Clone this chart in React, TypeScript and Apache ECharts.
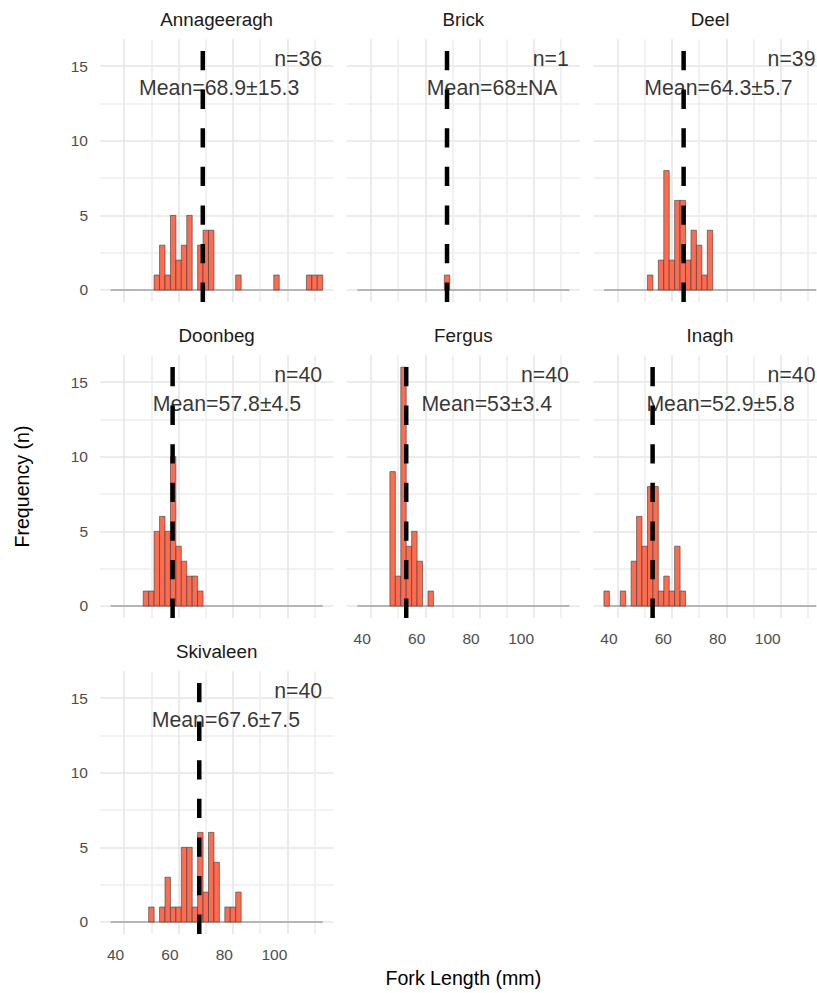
import React, { useEffect, useRef } from "react";
import * as echarts from "echarts";

// ---------------- data ----------------
const facetNames = ["Annageeragh", "Brick", "Deel", "Doonbeg", "Fergus", "Inagh", "Skivaleen"];
const sampleSizes = [36, 1, 39, 40, 40, 40, 40];
const meanValues = [68.9, 68, 64.3, 57.8, 53, 52.9, 67.6];
const meanLabels = ["68.9±15.3", "68±NA", "64.3±5.7", "57.8±4.5", "53±3.4", "52.9±5.8", "67.6±7.5"];

const BIN_WIDTH = 2;
const binStarts = [35, 37, 39, 41, 43, 45, 47, 49, 51, 53, 55, 57, 59, 61, 63, 65, 67, 69, 71, 73, 75, 77, 79, 81, 83, 85, 87, 89, 91, 93, 95, 97, 99, 101, 103, 105, 107, 109, 111];

const countsAnnageeragh = [0, 0, 0, 0, 0, 0, 0, 0, 1, 3, 1, 5, 2, 3, 5, 0, 3, 4, 4, 0, 0, 0, 0, 1, 0, 0, 0, 0, 0, 0, 1, 0, 0, 0, 0, 0, 1, 1, 1];
const countsBrick = [0, 0, 0, 0, 0, 0, 0, 0, 0, 0, 0, 0, 0, 0, 0, 0, 1, 0, 0, 0, 0, 0, 0, 0, 0, 0, 0, 0, 0, 0, 0, 0, 0, 0, 0, 0, 0, 0, 0];
const countsDeel = [0, 0, 0, 0, 0, 0, 0, 0, 1, 0, 2, 8, 2, 6, 6, 2, 4, 3, 1, 4, 0, 0, 0, 0, 0, 0, 0, 0, 0, 0, 0, 0, 0, 0, 0, 0, 0, 0, 0];
const countsDoonbeg = [0, 0, 0, 0, 0, 0, 1, 1, 5, 6, 5, 10, 4, 3, 2, 2, 1, 0, 0, 0, 0, 0, 0, 0, 0, 0, 0, 0, 0, 0, 0, 0, 0, 0, 0, 0, 0, 0, 0];
const countsFergus = [0, 0, 0, 0, 0, 0, 9, 2, 16, 4, 5, 3, 0, 1, 0, 0, 0, 0, 0, 0, 0, 0, 0, 0, 0, 0, 0, 0, 0, 0, 0, 0, 0, 0, 0, 0, 0, 0, 0];
const countsInagh = [1, 0, 0, 1, 0, 3, 6, 4, 8, 8, 1, 2, 1, 4, 1, 0, 0, 0, 0, 0, 0, 0, 0, 0, 0, 0, 0, 0, 0, 0, 0, 0, 0, 0, 0, 0, 0, 0, 0];
const countsSkivaleen = [0, 0, 0, 0, 0, 0, 0, 1, 0, 1, 3, 1, 1, 5, 5, 1, 6, 2, 6, 4, 0, 1, 1, 2, 0, 0, 0, 0, 0, 0, 0, 0, 0, 0, 0, 0, 0, 0, 0];
const facetCounts = [countsAnnageeragh, countsBrick, countsDeel, countsDoonbeg, countsFergus, countsInagh, countsSkivaleen];

const xGridValues = [40, 50, 60, 70, 80, 90, 100, 110];
const xTickLabels = [40, 60, 80, 100];
const yGridValues = [0, 2.5, 5, 7.5, 10, 12.5, 15];
const yTickLabels = [0, 5, 10, 15];

const xAxisTitle = "Fork Length (mm)";
const yAxisTitle = "Frequency (n)";

// ---------------- layout / style ----------------
const X_MIN = 31.1;
const X_MAX = 116.9;
const Y_MIN = -0.8;
const Y_MAX = 16.8;
const N_LABEL_POS = [113, 15.5];
const MEAN_LABEL_Y = 13.5;
const MEAN_LABEL_CENTER_X = [74.9, 84.6, 77.1, 77.8, 82.6, 77.9, 77.4];

const PANEL_LEFT = 100;
const PANEL_W = 233.33;
const COL_STEP = 246.67;
const PANEL_TOP = 39.2;
const PANEL_H = 262.7;
const ROW_STEP = 316;
const STRIP_Y = 19.5;

const FONT = "'Liberation Sans', Arial, sans-serif";
const BAR_FILL = "#FF6B4F";
const BAR_STROKE = "#3a3a3a";
const GRID_MAJOR = "#E6E6E6";
const GRID_MINOR = "#EEEEEE";

export default function App() {
  const ref = useRef<HTMLDivElement>(null);

  useEffect(() => {
    document.body.style.margin = "0";
    if (!ref.current) return;
    const chart = echarts.init(ref.current, undefined, { renderer: "svg" });

    const grids: any[] = [];
    const xAxes: any[] = [];
    const yAxes: any[] = [];
    const series: any[] = [];
    const graphics: any[] = [];

    const bottomPanels = [4, 5, 6];

    facetNames.forEach((name, i) => {
      const col = i % 3;
      const row = Math.floor(i / 3);
      const left = PANEL_LEFT + col * COL_STEP;
      const top = PANEL_TOP + row * ROW_STEP;
      grids.push({
        left,
        top,
        width: PANEL_W,
        height: PANEL_H,
        containLabel: false,
        outerBoundsMode: "none",
      });
      xAxes.push({
        type: "value",
        gridIndex: i,
        min: X_MIN,
        max: X_MAX,
        axisLine: { show: false },
        axisTick: { show: false, customValues: xGridValues },
        axisLabel: {
          show: bottomPanels.includes(i),
          customValues: xTickLabels,
          align: "right",
          margin: 13,
          fontSize: 15.5,
          color: "#4D4D4D",
          fontFamily: FONT,
        },
        splitLine: { show: true, lineStyle: { color: [GRID_MAJOR, GRID_MINOR], width: 1.6 } },
      });
      yAxes.push({
        type: "value",
        gridIndex: i,
        min: Y_MIN,
        max: Y_MAX,
        axisLine: { show: false },
        axisTick: { show: false, customValues: yGridValues },
        axisLabel: {
          show: col === 0,
          customValues: yTickLabels,
          margin: 12,
          fontSize: 15.5,
          color: "#4D4D4D",
          fontFamily: FONT,
        },
        splitLine: { show: true, lineStyle: { color: [GRID_MAJOR, GRID_MINOR], width: 1.6 } },
      });

      const counts = facetCounts[i];
      // baseline made by the empty bins
      series.push({
        type: "line",
        xAxisIndex: i,
        yAxisIndex: i,
        data: [
          [binStarts[0], 0],
          [binStarts[binStarts.length - 1] + BIN_WIDTH, 0],
        ],
        symbol: "none",
        silent: true,
        z: 1,
        lineStyle: { color: "#7F7F7F", width: 1.1 },
      });
      // histogram bars
      series.push({
        type: "custom",
        xAxisIndex: i,
        yAxisIndex: i,
        silent: true,
        z: 2,
        data: binStarts.map((b, j) => [b, counts[j]]),
        encode: { x: 0, y: 1 },
        renderItem: (params: any, api: any) => {
          const start = api.value(0);
          const c = api.value(1);
          if (!c) return null;
          const p0 = api.coord([start, c]);
          const p1 = api.coord([start + BIN_WIDTH, 0]);
          return {
            type: "rect",
            shape: { x: p0[0], y: p0[1], width: p1[0] - p0[0], height: p1[1] - p0[1] },
            style: { fill: BAR_FILL, stroke: BAR_STROKE, lineWidth: 0.6 },
          };
        },
      });
      // annotations
      const labelBase = {
        show: true,
        distance: 0,
        fontSize: 21.3,
        color: "#000000",
        fontFamily: FONT,
      };
      series.push({
        type: "scatter",
        xAxisIndex: i,
        yAxisIndex: i,
        silent: true,
        z: 4,
        symbolSize: 1,
        itemStyle: { color: "rgba(0,0,0,0)" },
        data: [
          {
            value: N_LABEL_POS,
            label: { ...labelBase, position: "left", formatter: "n=" + sampleSizes[i] },
          },
          {
            value: [MEAN_LABEL_CENTER_X[i], MEAN_LABEL_Y],
            label: { ...labelBase, position: "inside", formatter: "Mean=" + meanLabels[i] },
          },
        ],
      });
      // mean dashed line (drawn from bottom up)
      series.push({
        type: "line",
        xAxisIndex: i,
        yAxisIndex: i,
        data: [
          [meanValues[i], Y_MIN],
          [meanValues[i], Y_MAX],
        ],
        symbol: "none",
        silent: true,
        z: 5,
        lineStyle: { color: "#000000", width: 4.5, type: [19.3, 19.3], cap: "butt" },
      });

      graphics.push({
        type: "text",
        silent: true,
        x: left + PANEL_W / 2,
        y: STRIP_Y + row * ROW_STEP,
        style: {
          text: name,
          fontSize: 18.8,
          fontFamily: FONT,
          fill: "#1A1A1A",
          textAlign: "center",
          align: "center",
          textVerticalAlign: "middle",
          verticalAlign: "middle",
        },
      });
    });

    const plotLeft = PANEL_LEFT;
    const plotRight = PANEL_LEFT + 2 * COL_STEP + PANEL_W;
    const plotTop = PANEL_TOP;
    const plotBottom = PANEL_TOP + 2 * ROW_STEP + PANEL_H;

    graphics.push({
      type: "text",
      silent: true,
      x: (plotLeft + plotRight) / 2,
      y: 978,
      style: {
        text: xAxisTitle,
        fontSize: 19.6,
        fontFamily: FONT,
        fill: "#000000",
        textAlign: "center",
        align: "center",
        textVerticalAlign: "middle",
        verticalAlign: "middle",
      },
    });
    graphics.push({
      type: "text",
      silent: true,
      x: 22,
      y: (plotTop + plotBottom) / 2,
      rotation: Math.PI / 2,
      style: {
        text: yAxisTitle,
        fontSize: 19.6,
        fontFamily: FONT,
        fill: "#000000",
        textAlign: "center",
        align: "center",
        textVerticalAlign: "middle",
        verticalAlign: "middle",
      },
    });

    chart.setOption({
      animation: false,
      backgroundColor: "#FFFFFF",
      textStyle: { fontFamily: FONT },
      grid: grids,
      xAxis: xAxes,
      yAxis: yAxes,
      series,
      graphic: { elements: graphics },
    });

    return () => {
      chart.dispose();
    };
  }, []);

  return <div ref={ref} style={{ width: 817, height: 993 }} />;
}
